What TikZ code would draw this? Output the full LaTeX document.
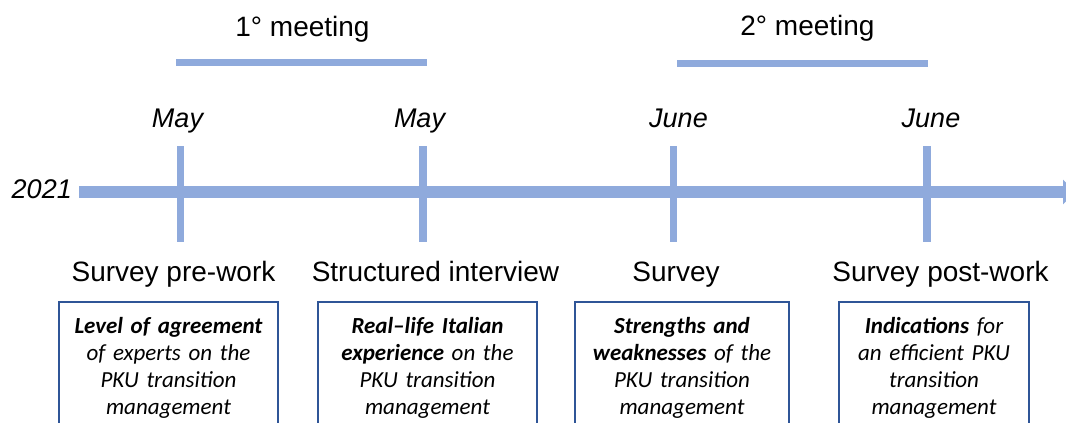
\documentclass[tikz,border=0pt]{standalone}
\usepackage{fontspec}
\setmainfont{Liberation Sans}
\newfontfamily\calfont{Carlito}
\usetikzlibrary{arrows.meta}
\definecolor{lineblue}{HTML}{8FAADC}
\definecolor{boxblue}{HTML}{2F5597}
\begin{document}
\begin{tikzpicture}[x=1pt,y=-1pt,
  bigtxt/.style={font=\fontsize{28}{32}\selectfont, inner sep=0pt, anchor=base},
  datetxt/.style={font=\fontsize{27}{32}\selectfont\itshape, inner sep=0pt, anchor=base},
  tickline/.style={draw=lineblue, line width=7.5pt},
  meetbar/.style={draw=lineblue, line width=7pt},
  mainline/.style={draw=lineblue, line width=12pt},
  outbox/.style={draw=boxblue, line width=1.8pt},
  boxtxt/.style={font=\calfont\fontsize{23}{27}\selectfont\itshape, inner sep=0pt, anchor=north, text width=210pt, align=center}
]
\useasboundingbox (0,0) rectangle (1066,423);
\fill[white] (0,0) rectangle (1066,423);

% meetings
\node[bigtxt] (m1) at (302.5,36) {1° meeting};
\node[bigtxt] (m2) at (807.5,35) {2° meeting};
\coordinate (b1a) at (176,62.5);
\coordinate (b1b) at (427,62.5);
\coordinate (b2a) at (677,63.5);
\coordinate (b2b) at (928,63.5);
\draw[meetbar] (b1a) -- (b1b);
\draw[meetbar] (b2a) -- (b2b);

% dates
\node[datetxt] (d1) at (177.5,127) {May};
\node[datetxt] (d2) at (419.5,127) {May};
\node[datetxt] (d3) at (678.5,127) {June};
\node[datetxt] (d4) at (931,127) {June};
\node[datetxt, anchor=base east] (yr) at (72,198) {2021};

% main line
\coordinate (ls) at (79,192);
\coordinate (le) at (1075,192);
\draw[mainline, -{Triangle[width=24pt,length=12pt]}] (ls) -- (le);

% ticks
\foreach \x/\n in {180.5/t1,423/t2,673.5/t3,927/t4}{
  \coordinate (\n a) at (\x,146);
  \coordinate (\n b) at (\x,242);
  \draw[tickline] (\n a) -- (\n b);
}

% labels
\node[bigtxt] (l1) at (173.5,281) {Survey pre-work};
\node[bigtxt] (l2) at (435.5,281) {Structured interview};
\node[bigtxt] (l3) at (676,281) {Survey};
\node[bigtxt] (l4) at (940.5,281) {Survey post-work};

% boxes
\draw[outbox] (59,302) rectangle (278,440);
\draw[outbox] (318,302) rectangle (537,440);
\draw[outbox] (575,302) rectangle (789,440);
\draw[outbox] (839,302) rectangle (1029,440);

\node[boxtxt] (x1) at (168.5,317) {\textbf{Level of agreement}\\ of experts on the\\ PKU transition\\ management};
\node[boxtxt] (x2) at (427.5,317) {\textbf{Real–life Italian}\\ \textbf{experience} on the\\ PKU transition\\ management};
\node[boxtxt] (x3) at (682,317) {\textbf{Strengths and}\\ \textbf{weaknesses} of the\\ PKU transition\\ management};
\node[boxtxt] (x4) at (934,317) {\textbf{Indications} for\\ an efficient PKU\\ transition\\ management};
\end{tikzpicture}
\end{document}
